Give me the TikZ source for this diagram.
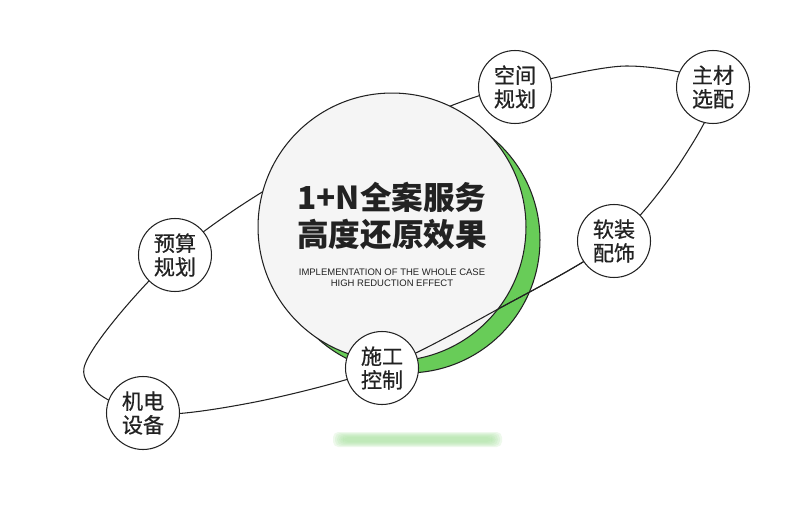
\documentclass[tikz,border=0pt]{standalone}
\usepackage{fontspec}
\newfontfamily\cjk{Noto Sans CJK SC}
\newfontfamily\cjkmid[FakeBold=0.6]{Noto Sans CJK SC}
\setsansfont{Liberation Sans}
\usetikzlibrary{calc}
\definecolor{leaf}{RGB}{104,204,88}
\definecolor{ink}{RGB}{34,34,34}
\tikzset{
  ring/.style={circle, draw=ink, line width=0.6pt, fill=white, minimum size=1.46cm, inner sep=0pt,
    align=center, text=ink, font=\cjkmid\fontsize{12}{13.5}\selectfont},
  orbit/.style={ink, line width=0.6pt},
  headline/.style={align=center, text=ink, font=\cjk\bfseries\fontsize{18}{21.5}\selectfont},
  subline/.style={align=center, text=ink, font=\sffamily\fontsize{5.4}{6}\selectfont}
}
\def\orbitpath{plot[smooth cycle] coordinates {(zc) (r1) (rz) (r2) (sg) (r3) (jd) (r4) (ys) (r5) (r6) (kj) (r7)}}

\begin{document}
\begin{tikzpicture}[x=0.02cm,y=-0.02cm]
			%%%%% START %%%%%
			\useasboundingbox[fill=white] (0,0) rectangle (801,507);
			
			% soft shadow under the ring
			\foreach \i in {0,...,5}
				\fill[leaf!55, opacity=0.2, rounded corners=3pt] (333+\i*2, 432+\i) rectangle (502-\i*2, 447-\i);
			
			\coordinate (zc) at (713,87);
			\coordinate (r1) at (682,160);
			\coordinate (rz) at (614,241);
			\coordinate (r2) at (500,308);
			\coordinate (sg) at (382,368);
			\coordinate (r3) at (250,403);
			\coordinate (jd) at (143,413);
			\coordinate (r4) at (84,368);
			\coordinate (ys) at (175,255);
			\coordinate (r5) at (300,170);
			\coordinate (r6) at (453,105);
			\coordinate (kj) at (515,87);
			\coordinate (r7) at (627,66);
			
			\draw[ink, line width=0.6pt, fill=leaf] (407,240) circle[radius=2.66cm];
			
			% back half of the orbit
			\draw[orbit] \orbitpath;
			
			\draw[ink, line width=0.6pt, fill=black!4] (392,227) circle[radius=2.68cm];
			
			% front half of the orbit
			\begin{scope}
				\clip (382,241) rectangle (614,507);
				\draw[orbit] \orbitpath;
			\end{scope}
			
			\node[headline] (head) at (392,216) {1+N全案服务\\高度还原效果};
			\node[subline] (sub) at (392,278) {IMPLEMENTATION OF THE WHOLE CASE\\HIGH REDUCTION EFFECT};
			
			\node[ring] (kjgh) at (kj) {空间\\规划};
			\node[ring] (zcxp) at (zc) {主材\\选配};
			\node[ring] (rzps) at (rz) {软装\\配饰};
			\node[ring] (sgkz) at (sg) {施工\\控制};
			\node[ring] (jdsb) at (jd) {机电\\设备};
			\node[ring] (ysgh) at (ys) {预算\\规划};
			
			%%%%% END %%%%%
\end{tikzpicture}
\end{document}
